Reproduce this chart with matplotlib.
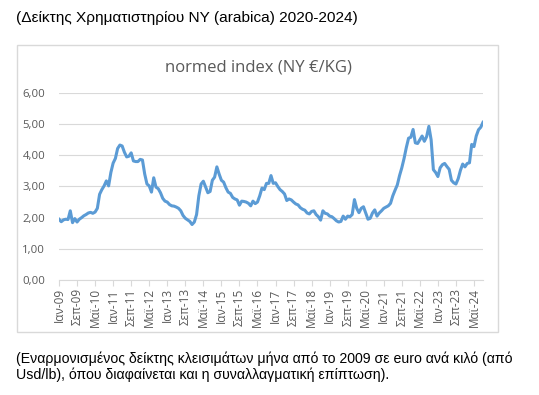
import matplotlib
matplotlib.use("Agg")
import matplotlib.pyplot as plt
from matplotlib.patches import Rectangle

# monthly normed index, Jan 2009 .. Sep 2024
values = [
    1.95, 1.87, 1.93, 1.95, 1.94, 2.22, 1.84, 1.97, 1.86, 1.95, 2.00, 2.06,
    2.10, 2.15, 2.17, 2.14, 2.18, 2.30, 2.75, 2.90, 3.02, 3.18, 3.02, 3.45,
    3.75, 3.90, 4.22, 4.33, 4.30, 4.10, 3.95, 3.97, 4.08, 3.82, 3.80, 3.80,
    3.87, 3.85, 3.40, 3.08, 3.02, 2.82, 3.28, 2.98, 2.93, 2.80, 2.62, 2.53,
    2.50, 2.42, 2.38, 2.37, 2.34, 2.30, 2.22, 2.07, 1.98, 1.93, 1.88, 1.78,
    1.86, 2.10, 2.70, 3.08, 3.17, 2.98, 2.80, 2.84, 3.20, 3.30, 3.63, 3.40,
    3.20, 3.14, 2.96, 2.82, 2.78, 2.65, 2.60, 2.57, 2.40, 2.53, 2.52, 2.50,
    2.46, 2.38, 2.53, 2.45, 2.50, 2.70, 2.95, 2.90, 3.10, 3.10, 3.35, 3.10,
    3.12, 3.00, 2.90, 2.84, 2.76, 2.55, 2.60, 2.57, 2.50, 2.44, 2.41, 2.32,
    2.27, 2.24, 2.15, 2.12, 2.20, 2.22, 2.10, 2.03, 1.92, 2.22, 2.14, 2.12,
    2.05, 2.03, 1.97, 1.90, 1.86, 1.88, 2.05, 1.95, 2.05, 2.03, 2.10, 2.58,
    2.30, 2.16, 2.30, 2.35, 2.15, 1.95, 1.98, 2.15, 2.25, 2.05, 2.15, 2.22,
    2.30, 2.34, 2.38, 2.46, 2.70, 2.88, 3.05, 3.35, 3.60, 3.90, 4.25, 4.55,
    4.58, 4.83, 4.40, 4.38, 4.50, 4.62, 4.45, 4.60, 4.93, 4.50, 3.54, 3.45,
    3.32, 3.60, 3.70, 3.74, 3.64, 3.55, 3.20, 3.12, 3.08, 3.25, 3.52, 3.72,
    3.63, 3.74, 3.76, 4.35, 4.28, 4.62, 4.82, 4.90, 5.06,
]
tick_labels = [
    "Ιαν-09", "Σεπ-09", "Μαϊ-10", "Ιαν-11", "Σεπ-11", "Μαϊ-12", "Ιαν-13",
    "Σεπ-13", "Μαϊ-14", "Ιαν-15", "Σεπ-15", "Μαϊ-16", "Ιαν-17", "Σεπ-17",
    "Μαϊ-18", "Ιαν-19", "Σεπ-19", "Μαϊ-20", "Ιαν-21", "Σεπ-21", "Μαϊ-22",
    "Ιαν-23", "Σεπ-23", "Μαϊ-24",
]
y_ticks = [0, 1, 2, 3, 4, 5, 6]

header = "(Δείκτης Χρηματιστηρίου NY (arabica) 2020-2024)"
footer = ("(Εναρμονισμένος δείκτης κλεισιμάτων μήνα από το 2009 σε euro ανά κιλό (από\n"
          "Usd/lb), όπου διαφαίνεται και η συναλλαγματική επίπτωση).")

W, H = 539, 395
fig = plt.figure(figsize=(W / 100, H / 100), dpi=100)
gray = "#595959"
chart_font = ["Open Sans", "DejaVu Sans"]

# outer box of the embedded chart
fig.patches.append(Rectangle((17 / W, 1 - 332 / H), 481 / W, 287 / H,
                             transform=fig.transFigure, fill=False,
                             edgecolor="#d9d9d9", linewidth=1))

ax = fig.add_axes([59 / W, 1 - 280 / H, 424 / W, 187 / H])
x = list(range(len(values)))
ax.plot(x, values, color="#5b9bd5", linewidth=2.2, solid_joinstyle="round")

ax.set_xlim(0, len(values) - 1)
ax.set_ylim(0, 6)
ax.set_yticks(y_ticks)
ax.set_yticklabels([f"{v:.2f}".replace(".", ",") for v in y_ticks],
                   fontsize=8.2, color=gray, family=chart_font)
ax.set_xticks(list(range(0, 8 * len(tick_labels), 8)))
ax.set_xticklabels(tick_labels, rotation=90, fontsize=8.5, color=gray,
                   family=chart_font)
ax.grid(axis="y", color="#d9d9d9", linewidth=0.8)
ax.set_axisbelow(True)
for side in ["top", "right", "left"]:
    ax.spines[side].set_visible(False)
ax.spines["bottom"].set_color("#d9d9d9")
ax.tick_params(axis="y", length=0, pad=10)
ax.tick_params(axis="x", length=4, color="#d9d9d9", pad=2)

fig.text(258 / W, 1 - 68 / H, "normed index (NY €/KG)", ha="center",
         va="center", fontsize=12, color=gray, family=chart_font)
fig.text(16 / W, 1 - 18 / H, header, ha="left", va="center", fontsize=11.1,
         family="Liberation Sans")
fig.text(16 / W, 1 - 367 / H, footer, ha="left", va="center", fontsize=10.2,
         family="Liberation Sans", linespacing=1.1)

fig.savefig("out.png", dpi=100)
